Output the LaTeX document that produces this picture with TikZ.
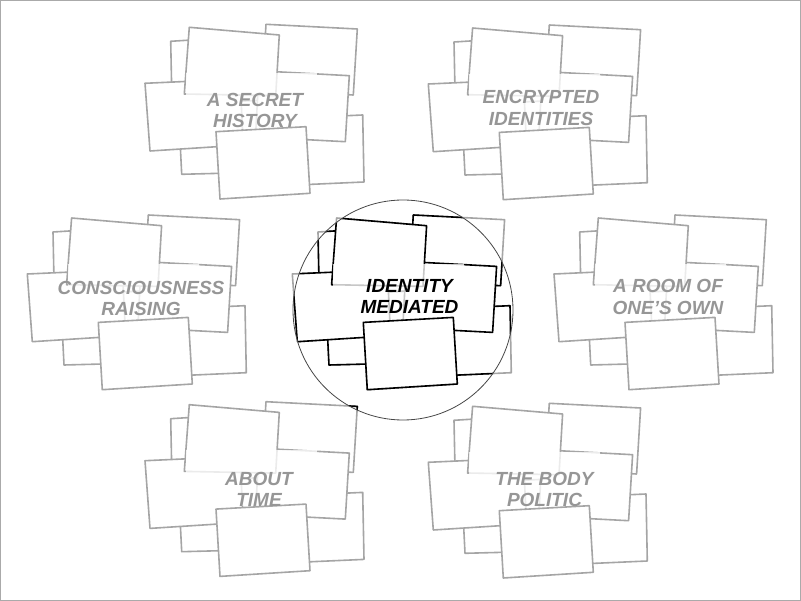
\documentclass[tikz,border=0pt]{standalone}
\usepackage{fontspec}
\setmainfont{Liberation Sans}
\definecolor{cardgray}{RGB}{165, 165, 165}
\definecolor{labelgray}{RGB}{150, 150, 150}
\definecolor{lensgray}{RGB}{70, 70, 70}
\definecolor{framegray}{RGB}{170, 170, 170}
\usepackage{tikz}

\tikzset{
  card/.style={draw=#1, fill=white, line width=1.6pt, line join=round},
  veil/.style={fill=white, fill opacity=0.78},
  topic/.style={font=\fontsize{19}{21.2}\selectfont\bfseries\itshape, align=center, inner sep=0pt},
}

% one heap of eight cards, #1/#2 = heap origin, #3 = edge colour
\newcommand{\cardstack}[3]{%
  \begin{scope}[shift={(#1,#2)}]
    \draw[card=#3] (-84.3,-68.7) -- (10,-74.6) -- (11,-10) -- (-83,-5.5) -- cycle;
    \draw[card=#3] (11,-85.7) -- (102.3,-81) -- (98.3,-15) -- (7,-19.7) -- cycle;
    \draw[card=#3] (17.7,9) -- (107.7,5) -- (109,72) -- (19,76) -- cycle;
    \draw[card=#3] (4,-39.2) -- (94.3,-34.3) -- (90.3,31.7) -- (0.5,27) -- cycle;
    \draw[card=#3] (-76,10) -- (-24,8) -- (-23,63) -- (-73.3,64.3) -- cycle;
    \draw[card=#3] (-110,-26.7) -- (-15,-31) -- (-11.7,35) -- (-105,41) -- cycle;
    \draw[card=#3] (-65.7,-82.7) -- (24.3,-75) -- (20.7,-14.3) -- (-70.7,-16) -- cycle;
    \fill[veil] (-69,-37) rectangle (62,19);
    \draw[card=#3] (-39,21.7) -- (51,16.7) -- (55,83.3) -- (-35,89) -- cycle;
  \end{scope}}

\begin{document}
\begin{tikzpicture}[x=1pt, y=-1pt]
  \useasboundingbox (0,0) rectangle (801,601);

  % Heaps, grey pass
  \foreach \hx/\hy in {255/110, 538.3/110.7, 137.3/300.7, 402.3/300.7, 664/300.7, 255/487.4, 538.3/489} {
    \cardstack{\hx}{\hy}{cardgray}
  }

  % Heap titles
  \node[topic, text=labelgray] (secret) at (255,110.5) {A SECRET\\HISTORY};
  \node[topic, text=labelgray] (encrypted) at (541,108) {ENCRYPTED\\IDENTITIES};
  \node[topic, text=labelgray] (raising) at (141,298.3) {CONSCIOUSNESS\\RAISING};
  \node[topic, text=labelgray] (room) at (668,297) {A ROOM OF\\ONE’S OWN};
  \node[topic, text=labelgray] (time) at (259,489.5) {ABOUT\\TIME};
  \node[topic, text=labelgray] (body) at (544.5,489.5) {THE BODY\\POLITIC};

  % Lens: everything inside turns black
  \begin{scope}
    \clip (403,310) circle (110pt);
    \foreach \hx/\hy in {255/110, 538.3/110.7, 137.3/300.7, 402.3/300.7, 664/300.7, 255/487.4, 538.3/489} {
      \cardstack{\hx}{\hy}{black}
    }
    \node[topic, text=black] (mediated) at (409.5,296.7) {IDENTITY\\MEDIATED};
  \end{scope}
  \draw[lensgray, line width=0.8pt] (403,310) circle (110pt);

  % Frame
  \draw[framegray, line width=1pt] (0.5,0.5) rectangle (800.5,600.5);
\end{tikzpicture}
\end{document}
